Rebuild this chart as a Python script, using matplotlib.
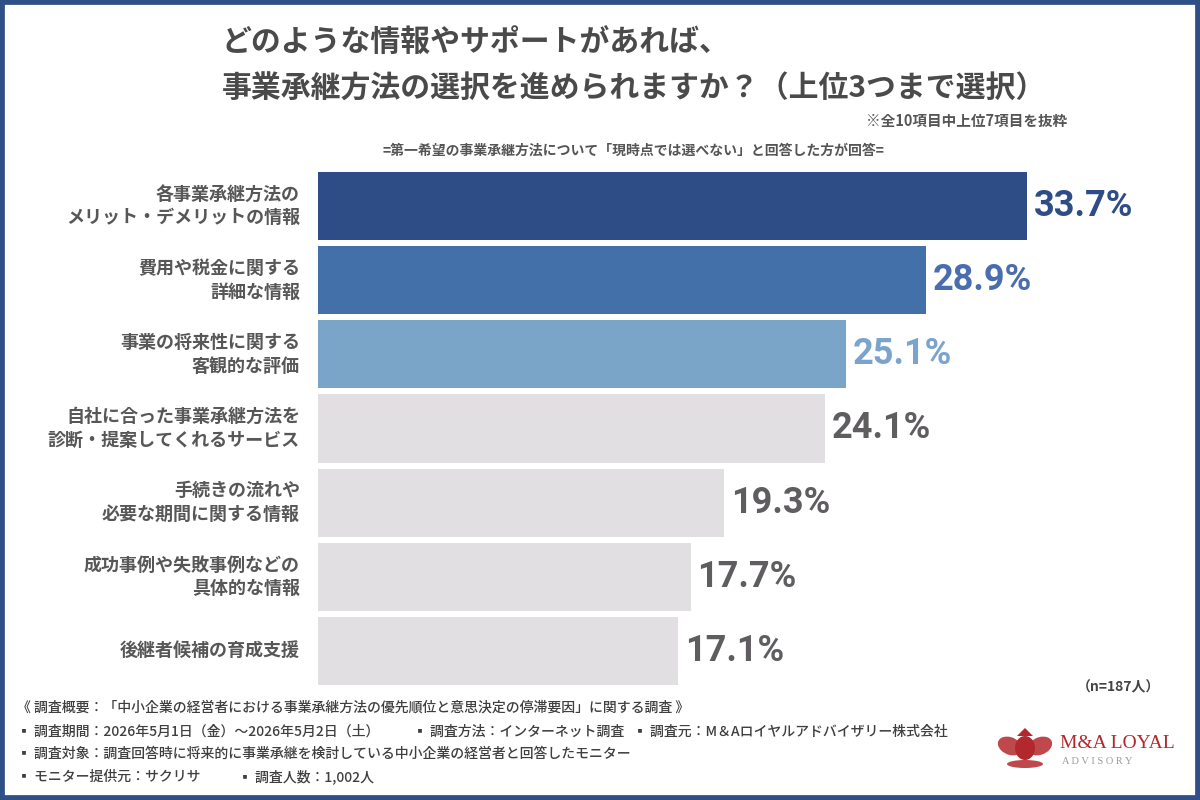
import matplotlib
matplotlib.use("Agg")
import matplotlib.pyplot as plt
from matplotlib import font_manager
from matplotlib.patches import Rectangle, Ellipse, Polygon

plt.rcParams['font.family'] = ['Noto Sans CJK JP', 'DejaVu Sans']

# ---------------- data ----------------
categories = [
    "各事業承継方法の\nメリット・デメリットの情報",
    "費用や税金に関する\n詳細な情報",
    "事業の将来性に関する\n客観的な評価",
    "自社に合った事業承継方法を\n診断・提案してくれるサービス",
    "手続きの流れや\n必要な期間に関する情報",
    "成功事例や失敗事例などの\n具体的な情報",
    "後継者候補の育成支援",
]
values = [33.7, 28.9, 25.1, 24.1, 19.3, 17.7, 17.1]
value_labels = ["33.7%", "28.9%", "25.1%", "24.1%", "19.3%", "17.7%", "17.1%"]

title_lines = ["どのような情報やサポートがあれば、",
               "事業承継方法の選択を進められますか？（上位3つまで選択）"]
note_text = "※全10項目中上位7項目を抜粋"
subtitle_text = "=第一希望の事業承継方法について「現時点では選べない」と回答した方が回答="
n_text = "（n=187人）"
footer_lines = [
    "《 調査概要：「中小企業の経営者における事業承継方法の優先順位と意思決定の停滞要因」に関する調査 》",
    "▪ 調査期間：2026年5月1日（金）～2026年5月2日（土）",
    "▪ 調査方法：インターネット調査",
    "▪ 調査元：M＆Aロイヤルアドバイザリー株式会社",
    "▪ 調査対象：調査回答時に将来的に事業承継を検討している中小企業の経営者と回答したモニター",
    "▪ モニター提供元：サクリサ",
    "▪ 調査人数：1,002人",
]

# ---------------- styles ----------------
bar_colors = ["#2E4C86", "#4470AA", "#7BA4C9"] + ["#E1DFE1"] * 4
label_colors = ["#2E4C86", "#4A6DB0", "#7BA4CD"] + ["#5F5D60"] * 4
text_gray = "#575757"

val_family = 'Roboto'
val_size = 26
try:
    font_manager.findfont(font_manager.FontProperties(family='Liberation Sans Narrow', weight='bold'),
                          fallback_to_default=False)
    val_family = 'Liberation Sans Narrow'
    val_size = 30
except Exception:
    pass

fig = plt.figure(figsize=(12, 8), dpi=100, facecolor='white')

W, H = 1200, 800
px_per_unit = 21.05
ax_left, ax_right = 318, 1160
ax = fig.add_axes([ax_left / W, 1 - 685 / H, (ax_right - ax_left) / W, (685 - 172) / H])
ax.set_xlim(0, (ax_right - ax_left) / px_per_unit)
ax.set_ylim(len(values) - 1 + 0.46, -0.46)
ax.axis('off')

ypos = list(range(len(values)))
ax.barh(ypos, values, height=0.92, color=bar_colors, edgecolor='none')

for i, (v, lab) in enumerate(zip(values, value_labels)):
    ax.text(v + 0.32, i, lab, ha='left', va='center', fontsize=val_size,
            fontweight='bold', family=val_family, color=label_colors[i])
    ax.annotate(categories[i], xy=(0, i), xytext=(-18, 0), textcoords='offset pixels',
                ha='right', va='center', multialignment='right', fontsize=13,
                fontweight='bold', color=text_gray, linespacing=1.3)

# title
fig.text(222 / W, 1 - 43 / H, title_lines[0], ha='left', va='center', fontsize=21.5,
         fontweight='bold', color="#4A4A4A")
fig.text(222 / W, 1 - 89 / H, title_lines[1], ha='left', va='center', fontsize=21.5,
         fontweight='bold', color="#4A4A4A")
fig.text(1067 / W, 1 - 121 / H, note_text, ha='right', va='center', fontsize=10.5,
         fontweight='bold', color="#555555")
fig.text(633 / W, 1 - 151 / H, subtitle_text, ha='center', va='center', fontsize=10,
         fontweight='bold', color="#555555")
fig.text(1160 / W, 1 - 687 / H, n_text, ha='right', va='center', fontsize=10,
         fontweight='bold', color="#444444")

# footer
fpos = [(17, 708), (17, 732), (413, 732), (633, 732), (17, 754), (17, 777), (238, 777)]
for (x, y), t in zip(fpos, footer_lines):
    fig.text(x / W, 1 - y / H, t, ha='left', va='center', fontsize=10, fontweight=500,
             color="#3F3F3F", family=['Noto Sans CJK JP', 'DejaVu Sans'])

# logo
red = "#B3282D"
fig.text(1060 / W, 1 - 744 / H, "M&A LOYAL", ha='left', va='center', fontsize=14,
         family='Liberation Serif', color=red)
fig.text(1062 / W, 1 - 761 / H, "A D V I S O R Y", ha='left', va='center', fontsize=7.5,
         family='Liberation Serif', color="#9A9A9A")
cx, cy = 1025 / W, 1 - 748 / H
fig.patches.append(Ellipse((cx, cy), 20 / W, 24 / H, transform=fig.transFigure,
                           facecolor=red, edgecolor='none'))
fig.patches.append(Ellipse((cx - 15 / W, cy + 2 / H), 22 / W, 20 / H, angle=30,
                           transform=fig.transFigure, facecolor=red, edgecolor='none', alpha=0.85))
fig.patches.append(Ellipse((cx + 15 / W, cy + 2 / H), 22 / W, 20 / H, angle=-30,
                           transform=fig.transFigure, facecolor=red, edgecolor='none', alpha=0.85))
fig.patches.append(Polygon([(cx - 8 / W, cy + 12 / H), (cx, cy + 20 / H), (cx + 8 / W, cy + 12 / H)],
                           closed=True, transform=fig.transFigure, facecolor=red, edgecolor='none'))
fig.patches.append(Ellipse((cx, cy - 16 / H), 36 / W, 8 / H, transform=fig.transFigure,
                           facecolor=red, edgecolor='none', alpha=0.85))

# frame
fig.patches.append(Rectangle((0, 0), 1, 1, transform=fig.transFigure, fill=False,
                             edgecolor="#2F4F86", linewidth=7))

fig.savefig("out.png", dpi=100, facecolor='white')
